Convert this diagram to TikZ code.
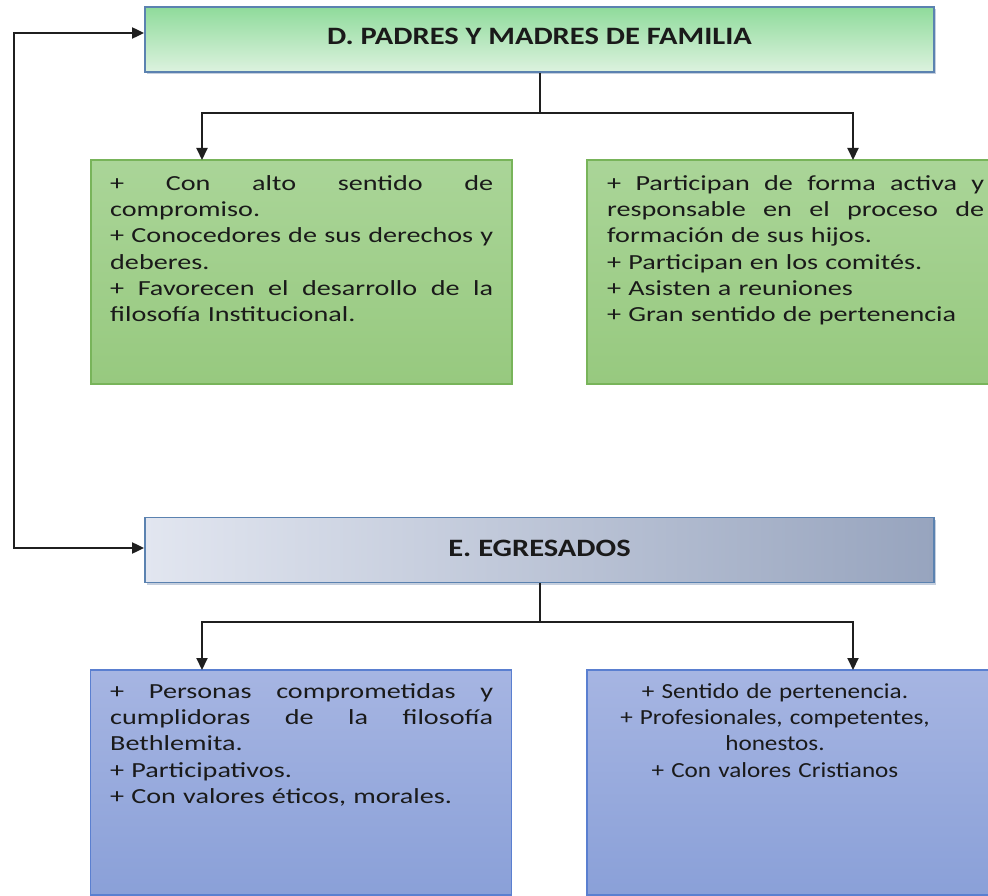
\documentclass[tikz,border=0pt]{standalone}
\usepackage{fontspec}
\setmainfont{Carlito}[FakeStretch=1.31]
\newfontfamily\headfont{Carlito}[FakeStretch=1.22]
\newfontfamily\narrowfont{Carlito}[FakeStretch=1.17]
\usetikzlibrary{arrows.meta,calc,shadows}
\definecolor{hdborder}{HTML}{5B82B0}
\definecolor{gtop}{HTML}{8FDB9B}
\definecolor{gbot}{HTML}{DDF2DF}
\definecolor{gbtop}{HTML}{AAD598}
\definecolor{gbbot}{HTML}{97C97F}
\definecolor{gbborder}{HTML}{78B45A}
\definecolor{btop}{HTML}{A6B5E2}
\definecolor{bbot}{HTML}{8AA0D8}
\definecolor{bborder}{HTML}{5A7FD0}
\definecolor{eleft}{HTML}{E2E6F0}
\definecolor{eright}{HTML}{97A4BE}
\definecolor{txt}{HTML}{1A1A1A}
\definecolor{shadowc}{HTML}{7F95B5}
\newcommand\jlA[1]{\makebox[383pt][s]{\spaceskip=0pt\xspaceskip=0pt #1}}
\newcommand\jlB[1]{\makebox[377pt][s]{\spaceskip=0pt\xspaceskip=0pt #1}}
\tikzset{
  conn/.style={line width=2pt, draw=black!88},
  arr/.style={conn, -{Triangle[length=12pt,width=11pt]}},
  dblarr/.style={conn, {Triangle[length=12pt,width=11pt]}-{Triangle[length=12pt,width=11pt]}},
  headbox/.style={draw=hdborder, line width=1.8pt, minimum width=789pt, minimum height=65pt,
    inner sep=0pt, font=\headfont\bfseries\fontsize{25}{30}\selectfont, text=txt,
    drop shadow={shadow xshift=2pt, shadow yshift=-2pt, fill=shadowc, opacity=0.45}},
  greenbox/.style={draw=gbborder, line width=1.8pt, top color=gbtop, bottom color=gbbot,
    minimum width=421pt, minimum height=224pt, inner sep=0pt},
  bluebox/.style={draw=bborder, line width=1.8pt, top color=btop, bottom color=bbot,
    minimum width=421pt, minimum height=225pt, inner sep=0pt},
  bodytext/.style={inner sep=0pt, text=txt, font=\fontsize{21.5}{26.3}\selectfont}
}
\begin{document}
\begin{tikzpicture}[x=1pt,y=-1pt]
\useasboundingbox (0,0) rectangle (988,896);
\clip (0,0) rectangle (988,896);

% headers
\node[headbox, top color=gtop, bottom color=gbot] (hd) at (539.5,39.5) {\raisebox{7pt}{D. PADRES Y MADRES DE FAMILIA}};
\node[headbox, left color=eleft, right color=eright] (eh) at (539.5,550) {\raisebox{3pt}{E. EGRESADOS}};

% green boxes
\node[greenbox] (gl) at (301.5,272) {};
\node[greenbox] (gr) at (797.5,272) {};
% blue boxes
\node[bluebox] (bl) at (301,782.5) {};
\node[bluebox] (br) at (797.5,782.5) {};

% texts
\node[bodytext, anchor=north west, text width=383pt] (glt) at (110,175) {%
\jlA{+ Con alto sentido de}\\
compromiso.\\
\jlA{+ Conocedores de sus derechos y}\\
deberes.\\
\jlA{+ Favorecen el desarrollo de la}\\
filosofía Institucional.};

\node[bodytext, anchor=north west, text width=377pt] (grt) at (607,175) {%
\jlB{+ Participan de forma activa y}\\
\jlB{responsable en el proceso de}\\
formación de sus hijos.\\
+ Participan en los comités.\\
+ Asisten a reuniones\\
+ Gran sentido de pertenencia};

\node[bodytext, anchor=north west, text width=383pt] (blt) at (110,683) {%
\jlA{+ Personas comprometidas y}\\
\jlA{cumplidoras de la filosofía}\\
Bethlemita.\\
+ Participativos.\\
+ Con valores éticos, morales.};

\node[bodytext, anchor=north, text width=380pt] (brt) at (775,683) {\narrowfont\centering
+ Sentido de pertenencia.\\
+ Profesionales, competentes,\\
honestos.\\
+ Con valores Cristianos\par};

% connector coordinates
\coordinate (j1) at (539.5,113);
\coordinate (gla) at (202,160);
\coordinate (gra) at (853,160);
\coordinate (j2) at (539.5,622);
\coordinate (bla) at (202,670);
\coordinate (bra) at (853,670);
\coordinate (lt) at (14,33);
\coordinate (lb) at (14,548);

\draw[conn] (hd.south) -- (j1);
\draw[arr] (j1) -| (gla);
\draw[arr] (j1) -| (gra);
\draw[conn] (eh.south) -- (j2);
\draw[arr] (j2) -| (bla);
\draw[arr] (j2) -| (bra);
\draw[dblarr] (hd.west |- lt) -- (lt) -- (lb) -- (eh.west |- lb);
\end{tikzpicture}
\end{document}
